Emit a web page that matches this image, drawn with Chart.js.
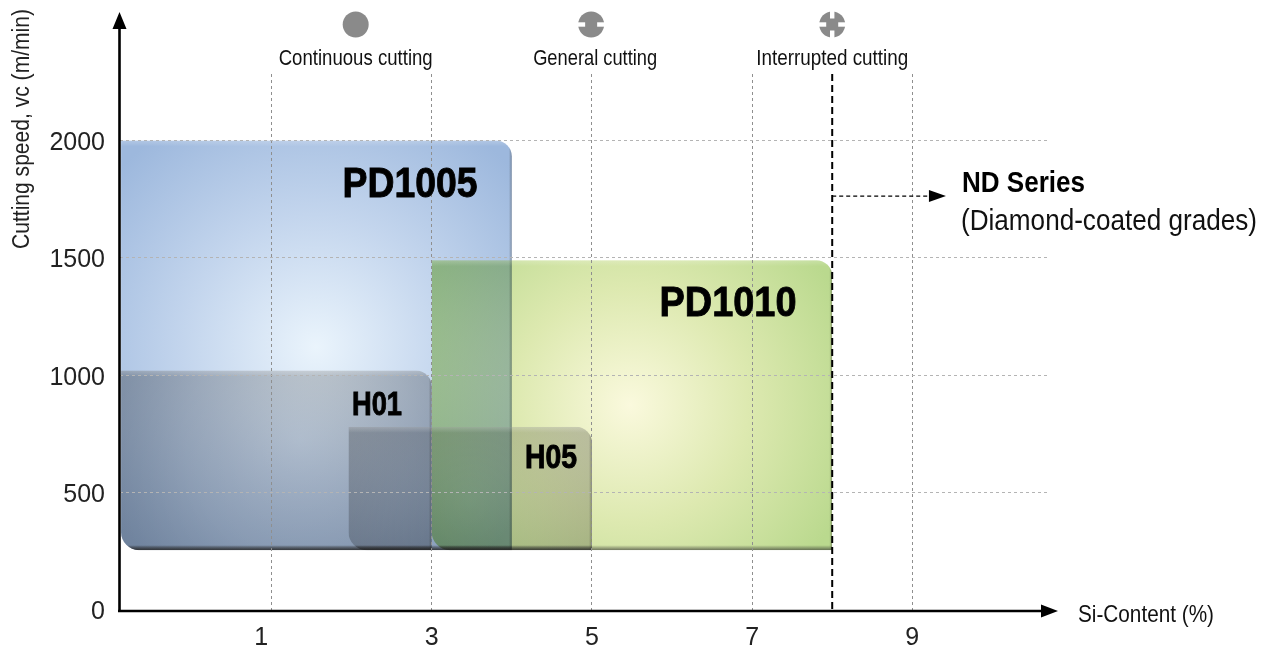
<!DOCTYPE html>
<html>
<head>
<meta charset="utf-8">
<style>
html,body{margin:0;padding:0;background:#fff;}
canvas{display:block;}
</style>
<script src="https://cdn.jsdelivr.net/npm/chart.js@4"></script>
</head>
<body>
<canvas id="chart" width="1267" height="648"></canvas>
<script>
// Datos
const xTicks = [1, 3, 5, 7, 9];
const yTicks = [0, 500, 1000, 1500, 2000];
const grades = ['PD1005', 'PD1010', 'H01', 'H05'];
const xStart = [-0.88, 3, -0.88, 1.96];
const xEnd = [4, 8, 3, 5];
const yLow = [255, 255, 255, 255];
const yHigh = [2000, 1490, 1020, 780];
const cuttingLabels = ['Continuous cutting', 'General cutting', 'Interrupted cutting'];
const cuttingX = [2.05, 4.99, 8.0];
const limitX = 8;
const limitArrowY = 1763;
const arrowEndX = 9.42;

const FONT = '"Liberation Sans", Arial, sans-serif';

// Estilo de cada bloque, mismo orden que grades
const blockStyle = [
    { center:[316,347], radius:265, stops:['#eaf4fc','#c3d5ed','#9db8dd'], textX:410, textY:197, size:42, maxW:135 },
    { center:[630,405], radius:235, stops:['#faf9dd','#dde9b0','#bad98e'], textX:728, textY:316, size:42, maxW:137 },
    { center:[300,440], radius:230, stops:['#d8d8d8','#c8c8c8','#b0b0b0'], textX:377, textY:415, size:33, maxW:50 },
    { center:[470,500], radius:150, stops:['#e0e0e0','#d4d4d4','#c4c4c4'], textX:551, textY:468, size:33, maxW:52 }
];

function drawBlock(ctx, i, x, y){
    const st = blockStyle[i];
    const left = x.getPixelForValue(xStart[i]);
    const right = x.getPixelForValue(xEnd[i]);
    const top = y.getPixelForValue(yHigh[i]);
    const bottom = y.getPixelForValue(yLow[i]);
    const w = right-left, h = bottom-top;

    ctx.save();
    ctx.beginPath();
    ctx.roundRect(left, top, w, h, [0, 16, 0, 18]);
    ctx.clip();

    ctx.globalCompositeOperation = 'multiply';
    const g = ctx.createRadialGradient(st.center[0], st.center[1], 0, st.center[0], st.center[1], st.radius);
    g.addColorStop(0, st.stops[0]);
    g.addColorStop(0.5, st.stops[1]);
    g.addColorStop(1, st.stops[2]);
    ctx.fillStyle = g;
    ctx.fillRect(left, top, w, h);
    ctx.globalCompositeOperation = 'source-over';

    // Brillo arriba, sombra abajo y a la derecha
    let e = ctx.createLinearGradient(0, top, 0, top+6);
    e.addColorStop(0, 'rgba(255,255,255,0.22)');
    e.addColorStop(1, 'rgba(255,255,255,0)');
    ctx.fillStyle = e;
    ctx.fillRect(left, top, w, 6);

    e = ctx.createLinearGradient(0, bottom-5, 0, bottom);
    e.addColorStop(0, 'rgba(40,40,40,0)');
    e.addColorStop(1, 'rgba(40,40,40,0.6)');
    ctx.fillStyle = e;
    ctx.fillRect(left, bottom-5, w, 5);

    e = ctx.createLinearGradient(right-3, 0, right, 0);
    e.addColorStop(0, 'rgba(40,40,40,0)');
    e.addColorStop(1, 'rgba(40,40,40,0.35)');
    ctx.fillStyle = e;
    ctx.fillRect(right-3, top, 3, h);
    ctx.restore();
}

function drawIcon(ctx, cx, cy, kind){
    ctx.fillStyle = '#8a8a8a';
    ctx.beginPath();
    ctx.arc(cx, cy, 13, 0, Math.PI*2);
    ctx.fill();
    ctx.fillStyle = '#fff';
    if(kind >= 1){
        ctx.fillRect(cx-14, cy-2.2, 8, 4.4);
        ctx.fillRect(cx+6, cy-2.2, 8, 4.4);
    }
    if(kind >= 2){
        ctx.fillRect(cx-2.2, cy-14, 4.4, 8);
        ctx.fillRect(cx-2.2, cy+6, 4.4, 8);
    }
}

const blocksPlugin = {
    id:'blocks',
    beforeDatasetsDraw(chart){
        const {ctx, scales:{x, y}} = chart;
        grades.forEach((g,i)=>drawBlock(ctx, i, x, y));
    },
    afterDraw(chart){
        const {ctx, scales:{x, y}, chartArea} = chart;
        ctx.save();

        // Nombres de los grados
        ctx.fillStyle = '#000';
        ctx.strokeStyle = '#000';
        ctx.lineWidth = 0.9;
        ctx.textAlign = 'center';
        ctx.textBaseline = 'alphabetic';
        grades.forEach((g,i)=>{
            const st = blockStyle[i];
            ctx.font = 'bold '+st.size+'px '+FONT;
            ctx.fillText(g, st.textX, st.textY, st.maxW);
            ctx.strokeText(g, st.textX, st.textY, st.maxW);
        });

        // Limite punteado en 8 %
        const lx = x.getPixelForValue(limitX);
        ctx.strokeStyle = '#000';
        ctx.lineWidth = 2;
        ctx.setLineDash([7,4]);
        ctx.beginPath();
        ctx.moveTo(lx, chartArea.top);
        ctx.lineTo(lx, chartArea.bottom);
        ctx.stroke();

        const ay = y.getPixelForValue(limitArrowY);
        const ax = x.getPixelForValue(arrowEndX);
        ctx.lineWidth = 1.2;
        ctx.setLineDash([4,3]);
        ctx.beginPath();
        ctx.moveTo(lx, ay);
        ctx.lineTo(ax-16, ay);
        ctx.stroke();
        ctx.setLineDash([]);
        ctx.fillStyle = '#000';
        ctx.beginPath();
        ctx.moveTo(ax, ay);
        ctx.lineTo(ax-17, ay-6);
        ctx.lineTo(ax-17, ay+6);
        ctx.closePath();
        ctx.fill();

        // Ejes con flecha
        ctx.lineWidth = 2.6;
        ctx.beginPath();
        ctx.moveTo(119.5, 612);
        ctx.lineTo(119.5, 28);
        ctx.moveTo(118, 611);
        ctx.lineTo(1042, 611);
        ctx.stroke();
        ctx.beginPath();
        ctx.moveTo(119.5, 12);
        ctx.lineTo(112.5, 29);
        ctx.lineTo(126.5, 29);
        ctx.closePath();
        ctx.moveTo(1058, 611);
        ctx.lineTo(1041, 604.5);
        ctx.lineTo(1041, 617.5);
        ctx.closePath();
        ctx.fill();

        // Tipos de corte
        cuttingLabels.forEach((t,i)=>{
            const px = x.getPixelForValue(cuttingX[i]);
            drawIcon(ctx, px, 24.5, i);
            ctx.fillStyle = '#111';
            ctx.font = '22px '+FONT;
            ctx.textAlign = 'center';
            ctx.fillText(t, px+[0,4,0][i], 65, [154, 124, 152][i]);
        });

        // Textos de los ejes y nota ND
        ctx.fillStyle = '#111';
        ctx.font = '24px '+FONT;
        ctx.textAlign = 'left';
        ctx.fillText('Si-Content (%)', 1078, 622, 136);

        ctx.fillStyle = '#000';
        ctx.font = 'bold 30px '+FONT;
        ctx.fillText('ND Series', 962, 192, 123);
        ctx.fillStyle = '#111';
        ctx.font = '29px '+FONT;
        ctx.fillText('(Diamond-coated grades)', 961, 230, 296);

        ctx.save();
        ctx.translate(29, 129);
        ctx.rotate(-Math.PI/2);
        ctx.textAlign = 'center';
        ctx.fillStyle = '#222';
        ctx.font = '23px '+FONT;
        ctx.fillText('Cutting speed, vc (m/min)', 0, 0, 240);
        ctx.restore();

        ctx.restore();
    }
};

new Chart(document.getElementById('chart').getContext('2d'),{
    type:'scatter',
    plugins:[blocksPlugin],
    data:{
        datasets:grades.map((g,i)=>({
            label:g,
            data:[{x:xStart[i], y:yLow[i]}, {x:xEnd[i], y:yHigh[i]}],
            pointRadius:0,
            showLine:false
        }))
    },
    options:{
        responsive:false,
        animation:false,
        layout:{ padding:{ left:0, top:74, right:220, bottom:0 } },
        plugins:{ legend:{ display:false }, tooltip:{ enabled:false } },
        scales:{
            x:{
                type:'linear',
                min:-0.893,
                max:10.682,
                afterBuildTicks:s=>{ s.ticks = xTicks.map(v=>({value:v})); },
                afterFit:s=>{ s.height = 38; },
                border:{ display:false, dash:[3,3] },
                grid:{ z:1, color:'#8f8f8f', lineWidth:1, drawTicks:false },
                ticks:{
                    // el "1" va algo a la izquierda de su linea en el original
                    callback:v=>v===1 ? '1   ' : String(v),
                    font:{ family:FONT, size:25 },
                    color:'#222',
                    padding:13,
                    maxRotation:0,
                    autoSkip:false
                }
            },
            y:{
                type:'linear',
                min:0,
                max:2283,
                afterBuildTicks:s=>{ s.ticks = yTicks.map(v=>({value:v})); },
                afterFit:s=>{ s.width = 120; },
                border:{ display:false, dash:[3,3] },
                grid:{ z:1, color:'#b4b4b4', lineWidth:1, drawTicks:false },
                ticks:{
                    // linea vacia delante para bajar el texto 2-3 px
                    callback:v=>['', String(v)],
                    font:{ family:FONT, size:25, lineHeight:0.2 },
                    color:'#222',
                    padding:15
                }
            }
        }
    }
});
</script>
</body>
</html>
